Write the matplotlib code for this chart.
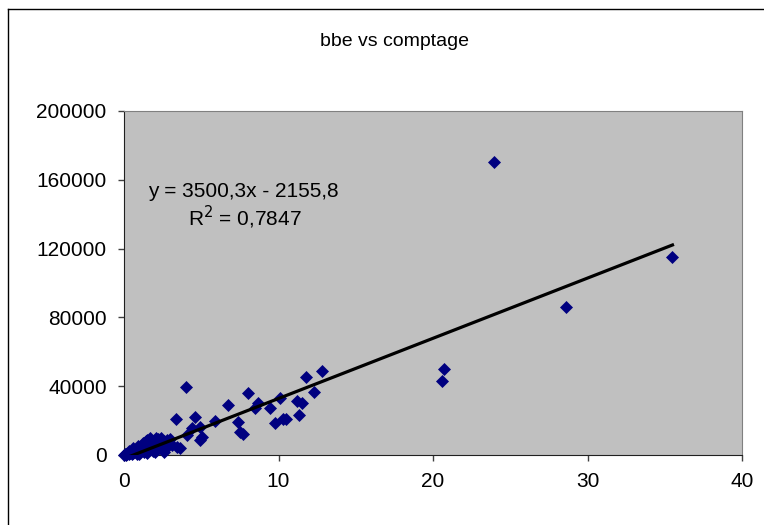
import matplotlib.pyplot as plt
from matplotlib.lines import Line2D
import numpy as np

plt.rcParams['font.family'] = ['Liberation Sans', 'DejaVu Sans']

# comptage (x) vs bbe (y)
comptage = [0.0, 0.05, 0.1, 0.15, 0.2, 0.25, 0.3, 0.35, 0.4, 0.45, 0.5, 0.55, 0.6,
            0.7, 0.75, 0.8, 0.85, 0.9, 1.0, 1.05, 1.1, 1.2, 1.25, 1.3, 1.4, 1.45,
            1.5, 1.6, 1.7, 1.75, 1.8, 1.9, 2.0, 2.05, 2.1, 2.2, 2.3, 2.4, 2.5, 2.6,
            2.7, 2.9, 3.0,
            0.3, 0.6, 0.9, 1.2, 1.5, 1.7, 2.2, 2.4, 2.8, 1.0, 1.5, 2.0, 2.6,
            3.1, 3.4, 3.6, 3.37, 4.0, 4.1, 4.4, 4.6, 4.9, 4.9, 5.05, 5.9, 6.7,
            7.4, 7.5, 7.7, 8.0, 8.5, 8.7, 9.45, 9.8, 10.1, 10.3, 10.5, 11.2, 11.3,
            11.5, 11.8, 12.3, 12.8,
            20.6, 20.7, 23.95, 28.6, 35.5]
bbe = [0, 500, 200, 800, 300, 1200, 600, 1500, 900, 2000, 400, 2500, 1200,
       3000, 1800, 3500, 800, 2500, 4000, 1500, 5500, 3000, 7000, 2000, 4500, 8000,
       6000, 3500, 7500, 9000, 5000, 2500, 8500, 10000, 6500, 4000, 9000, 7000, 3000, 8000,
       5500, 6000, 9500,
       2500, 3800, 5000, 6500, 8500, 9800, 9500, 10000, 8500, 300, 1000, 1500, 2000,
       5800, 4600, 4000, 20900, 39500, 11600, 15700, 22100, 16300, 8700, 10500, 19500, 29000,
       19300, 13400, 12500, 36000, 27300, 30200, 27300, 18600, 33100, 20900, 20900, 31400, 23300,
       30200, 45300, 36600, 48800,
       43000, 50000, 170300, 86000, 115100]

# courbe de tendance affichée par Excel
pente = 3500.3
origine = -2155.8
equation = 'y = 3500,3x - 2155,8'
r2_label = 'R$^2$ = 0,7847'

fig = plt.figure(figsize=(7.64, 5.25), dpi=100)
ax = fig.add_axes([124 / 764, 70 / 525, 618 / 764, 344 / 525])
ax.set_facecolor('#C0C0C0')

ax.scatter(comptage, bbe, marker='D', s=44, color='#000080', linewidths=0,
           zorder=3, clip_on=False)

xt = np.array([min(comptage), max(comptage)])
ax.plot(xt, pente * xt + origine, color='black', linewidth=2.3, zorder=4)

ax.set_xlim(0, 40)
ax.set_ylim(0, 200000)
ax.set_xticks([0, 10, 20, 30, 40])
ax.set_yticks([0, 40000, 80000, 120000, 160000, 200000])
ax.tick_params(direction='out', length=4.5, width=1, color='#404040',
               labelsize=15, pad=8)
for side in ['top', 'right']:
    ax.spines[side].set_color('#808080')
for side in ['left', 'bottom']:
    ax.spines[side].set_color('#202020')

ax.text(243 / 764, 1 - 192 / 525, equation, transform=fig.transFigure,
        ha='center', va='center', fontsize=15)
ax.text(245 / 764, 1 - 217 / 525, r2_label, transform=fig.transFigure,
        ha='center', va='center', fontsize=15)

fig.text(395 / 764, 1 - 42 / 525, 'bbe vs comptage', ha='center', va='center',
         fontsize=14)

# bordure de la zone de graphique
fig.add_artist(Line2D([8 / 764, 8 / 764], [0, 1 - 9 / 525], transform=fig.transFigure,
                      color='black', linewidth=1))
fig.add_artist(Line2D([8 / 764, 1], [1 - 9 / 525, 1 - 9 / 525], transform=fig.transFigure,
                      color='black', linewidth=1))

plt.savefig('out.png', dpi=100)
plt.close()
